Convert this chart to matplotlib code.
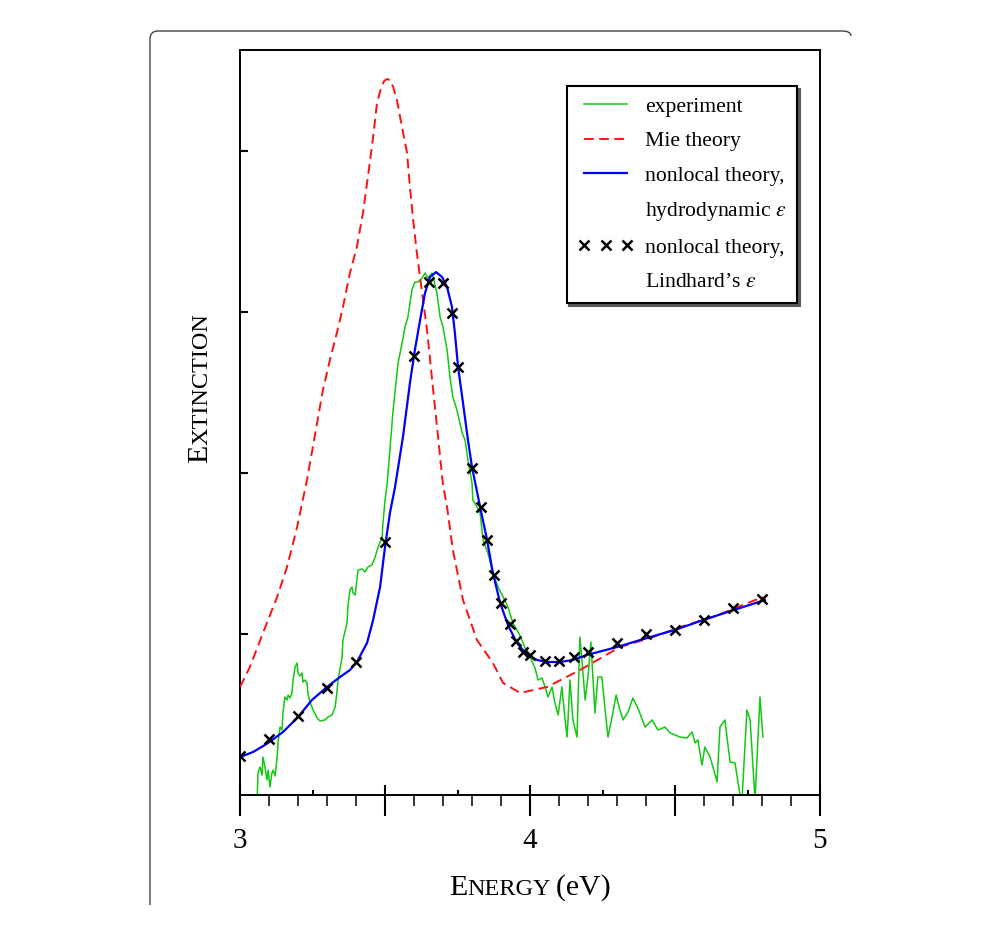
import matplotlib
matplotlib.use('Agg')
import matplotlib.pyplot as plt
from matplotlib.lines import Line2D
from matplotlib.path import Path
from matplotlib.patches import PathPatch
from matplotlib.ticker import FixedLocator, MultipleLocator, NullFormatter
from matplotlib.transforms import offset_copy

plt.rcParams['font.family'] = ['Liberation Serif', 'DejaVu Serif']
plt.rcParams['mathtext.fontset'] = 'stix'

# ---------------- data (energy in eV, extinction in arbitrary units) ----------------
exp_x = [3.059, 3.062, 3.069, 3.076, 3.079, 3.086, 3.093, 3.097, 3.103, 3.110,
         3.114, 3.121, 3.128, 3.131, 3.138, 3.145, 3.148, 3.155, 3.162, 3.166,
         3.172, 3.179, 3.183, 3.190, 3.197, 3.200, 3.207, 3.214, 3.217, 3.224,
         3.231, 3.234, 3.241, 3.252, 3.266, 3.276, 3.293, 3.303, 3.317, 3.328,
         3.334, 3.338, 3.352, 3.355, 3.369, 3.372, 3.379, 3.386, 3.390, 3.397,
         3.403, 3.407, 3.421, 3.431, 3.441, 3.455, 3.466, 3.476, 3.490, 3.493,
         3.500, 3.507, 3.517, 3.528, 3.545, 3.559, 3.569, 3.579, 3.593, 3.603,
         3.614, 3.628, 3.638, 3.648, 3.662, 3.666, 3.679, 3.690, 3.700, 3.714,
         3.724, 3.734, 3.748, 3.766, 3.776, 3.786, 3.800, 3.803, 3.817, 3.828,
         3.838, 3.855, 3.872, 3.890, 3.907, 3.924, 3.941, 3.959, 3.972, 3.990,
         4.000, 4.017, 4.028, 4.041, 4.052, 4.062, 4.076, 4.086, 4.097, 4.110,
         4.121, 4.128, 4.138, 4.148, 4.162, 4.172, 4.179, 4.190, 4.200, 4.210,
         4.224, 4.234, 4.248, 4.259, 4.269, 4.283, 4.297, 4.307, 4.321, 4.338,
         4.355, 4.372, 4.397, 4.421, 4.441, 4.466, 4.483, 4.500, 4.517, 4.541,
         4.559, 4.569, 4.579, 4.593, 4.603, 4.621, 4.645, 4.655, 4.672, 4.690,
         4.707, 4.724, 4.731, 4.748, 4.759, 4.776, 4.793, 4.803]
exp_y = [-0.031, 0.137, 0.174, 0.124, 0.236, 0.174, 0.093, 0.155, 0.050, 0.137,
         0.155, 0.118, 0.236, 0.323, 0.422, 0.404, 0.509, 0.609, 0.590, 0.621,
         0.602, 0.634, 0.714, 0.795, 0.820, 0.758, 0.739, 0.758, 0.702, 0.714,
         0.696, 0.634, 0.578, 0.528, 0.478, 0.460, 0.466, 0.484, 0.497, 0.547,
         0.634, 0.714, 0.857, 0.963, 1.068, 1.168, 1.273, 1.292, 1.255, 1.242,
         1.335, 1.398, 1.404, 1.385, 1.416, 1.429, 1.478, 1.540, 1.602, 1.689,
         1.832, 1.925, 2.143, 2.391, 2.683, 2.807, 2.907, 2.969, 3.137, 3.186,
         3.186, 3.211, 3.242, 3.211, 3.242, 3.217, 3.118, 2.969, 2.907, 2.764,
         2.596, 2.472, 2.391, 2.248, 2.205, 2.081, 1.938, 1.832, 1.789, 1.752,
         1.584, 1.503, 1.379, 1.292, 1.230, 1.168, 1.068, 1.012, 0.963, 0.882,
         0.857, 0.789, 0.714, 0.727, 0.671, 0.609, 0.671, 0.571, 0.497, 0.671,
         0.466, 0.360, 0.714, 0.466, 0.360, 0.981, 0.839, 0.590, 0.733, 0.950,
         0.509, 0.733, 0.733, 0.528, 0.360, 0.484, 0.621, 0.547, 0.466, 0.516,
         0.602, 0.540, 0.422, 0.466, 0.404, 0.422, 0.385, 0.373, 0.360, 0.354,
         0.391, 0.323, 0.342, 0.186, 0.298, 0.236, 0.081, 0.422, 0.466, 0.205,
         0.199, 0.000, -0.031, 0.528, 0.466, -0.031, 0.609, 0.360]

mie_x = [3.000, 3.034, 3.079, 3.128, 3.162, 3.197, 3.231, 3.286, 3.310, 3.334,
         3.355, 3.379, 3.403, 3.424, 3.441, 3.459, 3.472, 3.486, 3.497, 3.507,
         3.517, 3.528, 3.541, 3.552, 3.576, 3.586, 3.597, 3.610, 3.628, 3.645,
         3.666, 3.683, 3.700, 3.714, 3.734, 3.769, 3.817, 3.872, 3.907, 3.966,
         4.059, 4.172, 4.310, 4.424, 4.517, 4.631, 4.803]
mie_y = [0.671, 0.795, 1.006, 1.230, 1.416, 1.665, 1.957, 2.516, 2.702, 2.870,
         3.031, 3.242, 3.404, 3.615, 3.839, 4.087, 4.292, 4.391, 4.435, 4.447,
         4.441, 4.398, 4.317, 4.211, 3.988, 3.776, 3.571, 3.366, 3.118, 2.888,
         2.516, 2.224, 1.925, 1.789, 1.522, 1.211, 0.963, 0.820, 0.696, 0.634,
         0.671, 0.776, 0.919, 0.981, 1.043, 1.106, 1.230]

hydro_x = [3.000, 3.045, 3.097, 3.148, 3.200, 3.248, 3.300, 3.345, 3.379, 3.403,
           3.438, 3.459, 3.483, 3.500, 3.517, 3.534, 3.562, 3.586, 3.603, 3.621,
           3.638, 3.655, 3.676, 3.697, 3.714, 3.731, 3.741, 3.752, 3.769, 3.786,
           3.800, 3.828, 3.852, 3.872, 3.897, 3.924, 3.955, 3.990, 4.024, 4.059,
           4.103, 4.148, 4.197, 4.300, 4.403, 4.500, 4.597, 4.703, 4.810]
hydro_y = [0.236, 0.267, 0.323, 0.391, 0.484, 0.590, 0.671, 0.733, 0.776, 0.826,
           0.944, 1.087, 1.292, 1.540, 1.752, 1.907, 2.224, 2.559, 2.764, 2.950,
           3.118, 3.217, 3.248, 3.217, 3.155, 3.031, 2.870, 2.658, 2.435, 2.205,
           2.037, 1.789, 1.584, 1.379, 1.193, 1.056, 0.944, 0.870, 0.839, 0.826,
           0.826, 0.839, 0.870, 0.919, 0.975, 1.025, 1.087, 1.149, 1.211]

lind_x = [3.0, 3.1, 3.2, 3.3, 3.4, 3.5, 3.6, 3.65, 3.7, 3.73,
          3.75, 3.8, 3.83, 3.85, 3.875, 3.9, 3.93, 3.95, 3.975, 4.0,
          4.05, 4.1, 4.15, 4.2, 4.3, 4.4, 4.5, 4.6, 4.7, 4.8]
lind_y = [0.242, 0.348, 0.491, 0.665, 0.826, 1.571, 2.727, 3.186, 3.180, 2.994,
          2.658, 2.031, 1.789, 1.584, 1.366, 1.193, 1.062, 0.957, 0.888, 0.870,
          0.832, 0.832, 0.857, 0.888, 0.944, 1.000, 1.025, 1.087, 1.161, 1.217]

x_major = [3.0, 3.5, 4.0, 4.5, 5.0]
x_major_labels = ['3', '', '4', '', '5']
x_quarter = [3.25, 3.75, 4.25, 4.75]
y_ticks = [1, 2, 3, 4]

labels = ['experiment', 'Mie theory', 'nonlocal theory,',
          'hydrodynamic $\\varepsilon$', 'nonlocal theory,',
          'Lindhard\u2019s $\\varepsilon$']

# ---------------- figure ----------------
W, H = 1000, 936
fig = plt.figure(figsize=(W / 100, H / 100), dpi=100)
fig.patch.set_facecolor('white')

ax = fig.add_axes([240 / W, 1 - 795 / H, 580 / W, 745 / H])

green = '#12c812'
l_exp, = ax.plot(exp_x, exp_y, color=green, lw=1.1, zorder=2)
l_mie, = ax.plot(mie_x, mie_y, color='#ff1010', lw=1.4, ls=(0, (5, 2.8)), zorder=3)
l_hyd, = ax.plot(hydro_x, hydro_y, color='#0000ff', lw=1.6, zorder=4)
l_lin, = ax.plot(lind_x, lind_y, ls='none', marker='x', ms=7.5, mew=1.8,
                 color='black', zorder=5)

ax.set_xlim(3, 5)
ax.set_ylim(0, 745 / 161)

for s in ax.spines.values():
    s.set_linewidth(1.4)
    s.set_color('black')

ax.set_xticks(x_major)
ax.set_xticklabels(x_major_labels)
ax.xaxis.set_minor_locator(MultipleLocator(0.1))
ax.tick_params(axis='x', which='major', direction='out', length=15, width=1.5,
               labelsize=21, pad=9)
ax.tick_params(axis='x', which='minor', direction='out', length=8, width=1.1)
ax.set_yticks(y_ticks)
ax.yaxis.set_major_formatter(NullFormatter())
ax.tick_params(axis='y', which='major', direction='in', length=5.5, width=1.5)
ax.tick_params(top=False, right=False)

sec = ax.secondary_xaxis('bottom')
sec.set_xticks(x_major)
sec.xaxis.set_major_formatter(NullFormatter())
sec.xaxis.set_minor_locator(FixedLocator(x_quarter))
sec.tick_params(which='major', direction='in', length=7.5, width=1.5)
sec.tick_params(which='minor', direction='in', length=3.8, width=1.5)
sec.spines['bottom'].set_visible(False)

blank = Line2D([], [], ls='none')
handles = [l_exp, l_mie, l_hyd, blank, l_lin, Line2D([], [], ls='none')]
leg = ax.legend(handles, labels, loc='upper right',
                bbox_to_anchor=((797 - 240) / 580, (795 - 86) / 745),
                borderaxespad=0, numpoints=3, fontsize=15.6, frameon=True,
                fancybox=False, shadow={'color': '0.35', 'alpha': 1},
                edgecolor='black', framealpha=1, handlelength=2.6,
                handletextpad=0.5, labelspacing=0.66, borderpad=0.5)
leg.get_frame().set_linewidth(1.5)

# outer frame (rounded corners on top)
r = 8
verts = [(150, 905), (150, 31 + r), (150, 31), (150 + r, 31),
         (850 - r, 31), (851, 31), (851, 31 + 5)]
codes = [Path.MOVETO, Path.LINETO, Path.CURVE3, Path.CURVE3,
         Path.LINETO, Path.CURVE3, Path.CURVE3]
fverts = [(vx / W, 1 - vy / H) for vx, vy in verts]
fig.add_artist(PathPatch(Path(fverts, codes), transform=fig.transFigure,
                         fill=False, lw=1.0, edgecolor='#444444'))


def small_caps(parts, x, y, rotation=0):
    rend = fig.canvas.get_renderer()
    texts, widths = [], []
    for s, size in parts:
        t = fig.text(x, y, s, fontsize=size, rotation=rotation,
                     rotation_mode='anchor', ha='left', va='baseline')
        bb = t.get_window_extent(rend)
        texts.append(t)
        widths.append(bb.height if rotation == 90 else bb.width)
    pos = -sum(widths) / 2
    for t, w in zip(texts, widths):
        if rotation == 90:
            t.set_transform(offset_copy(fig.transFigure, x=0, y=pos, units='dots'))
        else:
            t.set_transform(offset_copy(fig.transFigure, x=pos, y=0, units='dots'))
        pos += w


fig.canvas.draw()
big, small = 21.5, 17.5
small_caps([('E', big), ('NERGY', small), ('\u2009(eV)', big)], 530 / W, 1 - 895 / H)
small_caps([('E', big), ('XTINCTION', small)], 207 / W, 1 - 388 / H, rotation=90)

fig.savefig('out.png', dpi=100, facecolor='white')
